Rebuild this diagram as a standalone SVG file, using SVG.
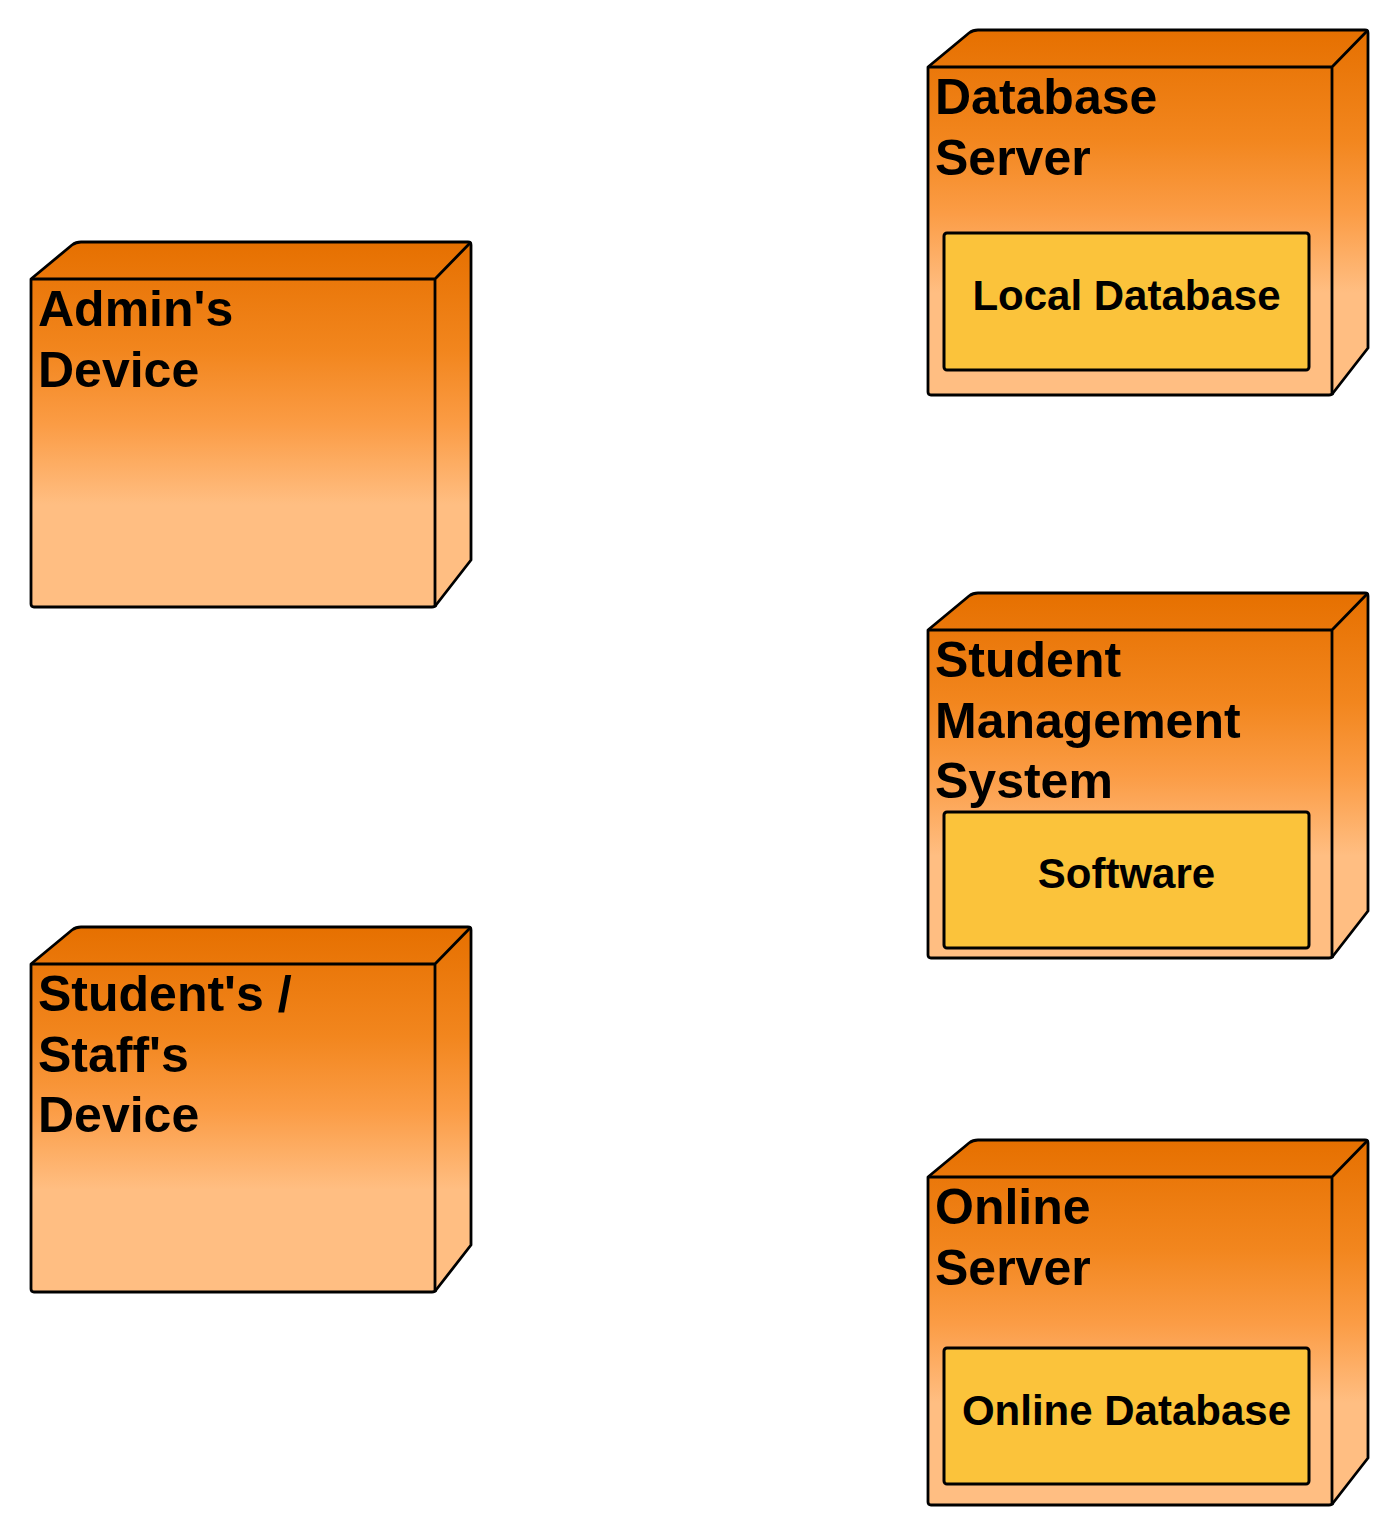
<svg xmlns="http://www.w3.org/2000/svg" width="1399" height="1536" viewBox="0 0 1399 1536">
<defs>
<linearGradient id="nodeGrad" x1="0" y1="0" x2="0" y2="1">
<stop offset="0" stop-color="#E67000"/>
<stop offset="0.3" stop-color="#F2861E"/>
<stop offset="0.5" stop-color="#FB9C45"/>
<stop offset="0.72" stop-color="#FFBE82"/>
<stop offset="1" stop-color="#FFBE82"/>
</linearGradient>
<path id="box3d" d="M0,37 L41,3 Q45,0 50,0 L437,0 Q440,0 440,3 L440,318 L405,363 Q404,365 401,365 L3,365 Q0,365 0,362 Z"/>
</defs>
<style>
.body{fill:url(#nodeGrad);stroke:#000;stroke-width:2.8;stroke-linejoin:round}
.edge{fill:none;stroke:#000;stroke-width:2.8;stroke-linejoin:round}
.title{font-family:"Liberation Sans",Arial,sans-serif;font-weight:bold;font-size:50px;fill:#000}
.inner{fill:#FBC33B;stroke:#000;stroke-width:3}
.itext{font-family:"Liberation Sans",Arial,sans-serif;font-weight:bold;font-size:42px;fill:#000;text-anchor:middle}
</style>
<g id="connectors"></g>
<g id="admin-device" transform="translate(31,242)">
<use href="#box3d" class="body"/>
<path class="edge" d="M0,37 L404,37 L440,0 M404,37 L404,365"/>
<text class="title" x="7" y="84">Admin's</text>
<text class="title" x="7" y="144.5">Device</text>
</g>
<g id="student-staff-device" transform="translate(31,927)">
<use href="#box3d" class="body"/>
<path class="edge" d="M0,37 L404,37 L440,0 M404,37 L404,365"/>
<text class="title" x="7" y="84">Student's /</text>
<text class="title" x="7" y="144.5">Staff's</text>
<text class="title" x="7" y="205">Device</text>
</g>
<g id="database-server" transform="translate(928,30)">
<use href="#box3d" class="body"/>
<path class="edge" d="M0,37 L404,37 L440,0 M404,37 L404,365"/>
<text class="title" x="7" y="84">Database</text>
<text class="title" x="7" y="144.5">Server</text>
<g id="local-database">
<rect class="inner" x="16" y="203" width="365" height="137" rx="3"/>
<text class="itext" x="198.5" y="280">Local Database</text>
</g>
</g>
<g id="student-management-system" transform="translate(928,593)">
<use href="#box3d" class="body"/>
<path class="edge" d="M0,37 L404,37 L440,0 M404,37 L404,365"/>
<text class="title" x="7" y="84">Student</text>
<text class="title" x="7" y="144.5">Management</text>
<text class="title" x="7" y="205">System</text>
<g id="software">
<rect class="inner" x="16" y="219" width="365" height="136" rx="3"/>
<text class="itext" x="198.5" y="295">Software</text>
</g>
</g>
<g id="online-server" transform="translate(928,1140)">
<use href="#box3d" class="body"/>
<path class="edge" d="M0,37 L404,37 L440,0 M404,37 L404,365"/>
<text class="title" x="7" y="84">Online</text>
<text class="title" x="7" y="144.5">Server</text>
<g id="online-database">
<rect class="inner" x="16" y="208" width="365" height="136" rx="3"/>
<text class="itext" x="198.5" y="285">Online Database</text>
</g>
</g>
</svg>
